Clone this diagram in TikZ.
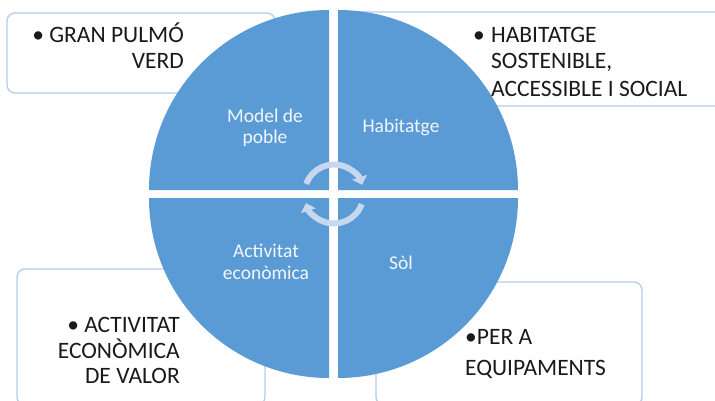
\documentclass[tikz,border=0pt]{standalone}
\usepackage{fontspec}
\setmainfont{Carlito}
\usetikzlibrary{arrows.meta}
\definecolor{quadblue}{HTML}{5B9BD5}
\definecolor{boxline}{HTML}{B4CBEA}
\definecolor{arrowcol}{HTML}{C6D7EE}
\definecolor{outertext}{HTML}{1A1A1A}
\definecolor{innertext}{HTML}{F2F6FB}
\tikzset{
  sidebox/.style={draw=boxline, line width=1.3pt, fill=white, rounded corners=8pt},
  quad/.style={fill=quadblue, draw=none},
  outerR/.style={anchor=base east, inner sep=0pt, text=outertext, font=\fontsize{23.5}{26}\selectfont},
  outerL/.style={anchor=base west, inner sep=0pt, text=outertext, font=\fontsize{23.5}{26}\selectfont},
  inner/.style={anchor=base, inner sep=0pt, text=innertext, font=\fontsize{19.5}{22}\selectfont},
  cyclearrow/.style={draw=arrowcol, line width=6pt, -{Triangle[length=8pt, width=15pt]}}
}
\begin{document}
\begin{tikzpicture}[x=1pt, y=1pt]
\useasboundingbox (0,0) rectangle (715,400);
% side boxes
\draw[sidebox] (7,307) rectangle (275,387);
\draw[sidebox] (345,294) rectangle (724,388);
\draw[sidebox] (17,-5) rectangle (265,131);
\draw[sidebox] (376,-5) rectangle (642,118);
% quadrants
\fill[quad] (329,210) -- (149,210) arc[start angle=180, end angle=90, radius=180] -- cycle;
\fill[quad] (338,210) -- (338,390) arc[start angle=90, end angle=0, radius=180] -- cycle;
\fill[quad] (329,202) -- (149,202) arc[start angle=180, end angle=270, radius=180] -- cycle;
\fill[quad] (338,202) -- (518,202) arc[start angle=0, end angle=-90, radius=180] -- cycle;
% cycle arrows
\coordinate (ctr) at (334,206);
\draw[cyclearrow] (ctr) ++(160:29.5) arc[start angle=160, end angle=18, radius=29.5];
\draw[cyclearrow] (ctr) ++(-20:29.5) arc[start angle=-20, end angle=-162, radius=29.5];
% inner labels
\node[inner] (model1) at (265,278) {Model de};
\node[inner] (model2) at (265,256.5) {poble};
\node[inner] (hab) at (401,268) {Habitatge};
\node[inner] (act1) at (266,143) {Activitat};
\node[inner] (act2) at (266,121) {econòmica};
\node[inner] (sol) at (401,131) {Sòl};
% outer texts
\node[outerR] (tl1) at (184,357) {• GRAN PULMÓ};
\node[outerR] (tl2) at (184,331) {VERD};
\node[outerL] (trb) at (473,357) {•};
\node[outerL] (tr1) at (491,357) {HABITATGE};
\node[outerL] (tr2) at (491,331) {SOSTENIBLE,};
\node[outerL] (tr3) at (491,304) {ACCESSIBLE I SOCIAL};
\node[outerR] (bl1) at (180,68) {• ACTIVITAT};
\node[outerR] (bl2) at (180,42) {ECONÒMICA};
\node[outerR] (bl3) at (180,17) {DE VALOR};
\node[outerL] (br1) at (465,56) {•PER A};
\node[outerL] (br2) at (465,25) {EQUIPAMENTS};
\end{tikzpicture}
\end{document}
